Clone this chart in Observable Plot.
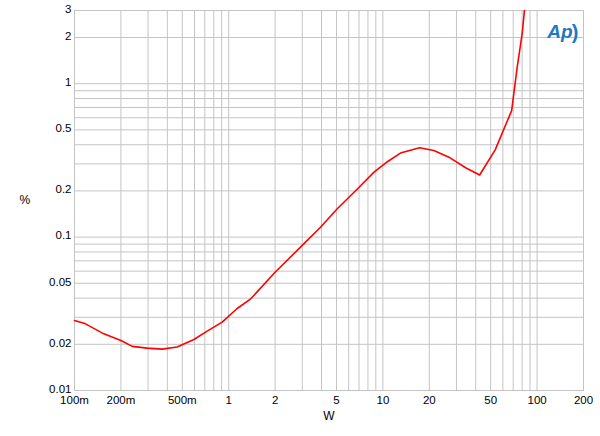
<!DOCTYPE html>
<html>
<head>
<meta charset="utf-8">
<script src="https://cdn.jsdelivr.net/npm/d3@7"></script>
<script src="https://cdn.jsdelivr.net/npm/@observablehq/plot@0.6"></script>
<style>
  html, body { margin: 0; padding: 0; background: #fff; }
  #chart { width: 600px; height: 436px; position: relative; }
</style>
</head>
<body>
<div id="chart"></div>
<script>
// Power (W) vs THD+N (%)
const power = [0.1, 0.118, 0.155, 0.2, 0.237, 0.296, 0.37, 0.463, 0.595, 0.725, 0.907, 1.13, 1.39, 2.0, 3.0, 3.94, 5.06, 6.83, 8.76, 10.7, 13.0, 17.3, 21.4, 26.8, 34.4, 42.4, 53.5, 68.4, 74.3, 80.0, 82.8];
const thd   = [0.0286, 0.0272, 0.0234, 0.0212, 0.0194, 0.0189, 0.0186, 0.0192, 0.0215, 0.0244, 0.0279, 0.0341, 0.0396, 0.059, 0.0883, 0.116, 0.153, 0.206, 0.265, 0.31, 0.353, 0.382, 0.367, 0.332, 0.283, 0.254, 0.37, 0.668, 1.28, 2.11, 3.0];

const xTickValues = [0.1, 0.2, 0.5, 1, 2, 5, 10, 20, 50, 100, 200];
const xTickLabels = ["100m", "200m", "500m", "1", "2", "5", "10", "20", "50", "100", "200"];
const yTickValues = [0.01, 0.02, 0.05, 0.1, 0.2, 0.5, 1, 2, 3];
const yTickLabels = ["0.01", "0.02", "0.05", "0.1", "0.2", "0.5", "1", "2", "3"];

const xGrid = [0.1,0.2,0.3,0.4,0.5,0.6,0.7,0.8,0.9,1,2,3,4,5,6,7,8,9,10,20,30,40,50,60,70,80,90,100,200];
const yGrid = [0.01,0.02,0.03,0.04,0.05,0.06,0.07,0.08,0.09,0.1,0.2,0.3,0.4,0.5,0.6,0.7,0.8,0.9,1,2,3];

const data = power.map((p, i) => ({ p, v: thd[i] }));
const font = "'Liberation Sans', Arial, sans-serif";

const chart = Plot.plot({
  width: 600,
  height: 436,
  marginLeft: 74,
  marginRight: 17,
  marginTop: 10,
  marginBottom: 46,
  style: { fontFamily: font, fontSize: "11px", color: "#000", background: "#fff" },
  x: { type: "log", domain: [0.1, 200], axis: null },
  y: { type: "log", domain: [0.01, 3], axis: null },
  marks: [
    Plot.ruleX(xGrid, { stroke: "#c4c4c4", strokeWidth: 1 }),
    Plot.ruleY(yGrid, { stroke: "#c4c4c4", strokeWidth: 1 }),
    Plot.frame({ stroke: "#c4c4c4" }),
    Plot.text(xTickValues, { x: d => d, text: (d, i) => xTickLabels[i], frameAnchor: "bottom", dy: 13, fontSize: 11.5, lineHeight: 0.9, fill: "#000" }),
    Plot.text(yTickValues, { y: d => d, text: (d, i) => yTickLabels[i], frameAnchor: "left", textAnchor: "end", dx: -3, dy: -1, fontSize: 11.5, lineHeight: 0.9, fill: "#000" }),
    Plot.text(["W"], { frameAnchor: "bottom", dy: 29, fontSize: 12, fill: "#000" }),
    Plot.text(["%"], { frameAnchor: "left", dx: -55, fontSize: 12, fill: "#000" }),
    Plot.line(data, { x: "p", y: "v", stroke: "#ff0000", strokeWidth: 1.6, curve: "linear" }),
    Plot.text(["Ap"], { frameAnchor: "top-right", dx: -11, dy: 14, fontSize: 19, fontStyle: "italic", fontWeight: "bold", fill: "#1f78c1", fontFamily: font }),
    Plot.text([")"], { frameAnchor: "top-right", dx: -5, dy: 14, fontSize: 20, fontWeight: "bold", fill: "#1f78c1", fontFamily: font })
  ]
});
document.getElementById("chart").appendChild(chart);
</script>
</body>
</html>
